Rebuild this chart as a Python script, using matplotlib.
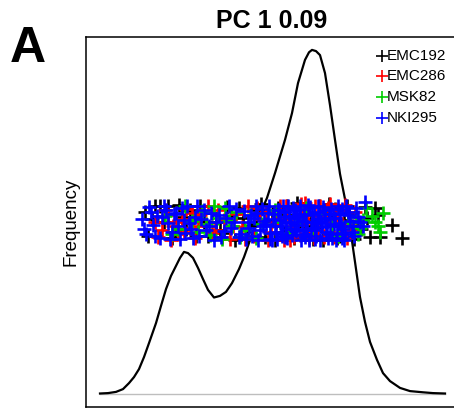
import matplotlib
matplotlib.use("Agg")
import matplotlib.pyplot as plt

plt.rcParams['font.family'] = ['Liberation Sans', 'DejaVu Sans']

# density curve of PC1 (all samples)
dens_x = [-1.70, -1.62, -1.54, -1.47, -1.41, -1.36, -1.31, -1.26, -1.21, -1.14,
          -1.09, -1.04, -0.99, -0.94, -0.90, -0.86, -0.82, -0.77, -0.72, -0.67,
          -0.62, -0.56, -0.50, -0.44, -0.38, -0.31, -0.26, -0.21, -0.15, -0.09,
          -0.03, 0.05, 0.15, 0.22, 0.28, 0.35, 0.39, 0.42, 0.46, 0.50, 0.55, 0.60,
          0.65, 0.70, 0.75, 0.80, 0.85, 0.90, 0.95, 1.00, 1.07, 1.13,
          1.20, 1.30, 1.40, 1.53, 1.63, 1.75]
dens_y = [0.000, 0.001, 0.004, 0.011, 0.026, 0.041, 0.061, 0.091, 0.126, 0.176,
          0.219, 0.261, 0.294, 0.319, 0.339, 0.354, 0.351, 0.339, 0.314, 0.286,
          0.259, 0.240, 0.244, 0.254, 0.276, 0.311, 0.341, 0.376, 0.416, 0.454,
          0.489, 0.551, 0.634, 0.701, 0.776, 0.834, 0.853, 0.859, 0.856, 0.846, 0.801, 0.721,
          0.634, 0.549, 0.486, 0.416, 0.329, 0.241, 0.179, 0.129, 0.084, 0.051,
          0.031, 0.014, 0.006, 0.003, 0.001, 0.000]

# per dataset PC1 scores with vertical jitter
emc192_x = [-1.25, -1.18, -1.10, -1.02, -0.95, -0.88, -0.80, -0.74, -0.66, -0.58,
            -0.50, -0.43, -0.35, -0.27, -0.20, -0.12, -0.05, 0.02, 0.08, 0.14,
            0.19, 0.24, 0.29, 0.33, 0.37, 0.41, 0.45, 0.49, 0.53, 0.57,
            0.61, 0.65, 0.70, 0.74, 0.79, 0.84, 0.87, 0.91, 0.95, 1.00,
            1.05, 1.10, 1.22, 1.32,
            -1.22, -1.15, -1.06, -0.98, -0.91, -0.84, -0.77, -0.70, -0.62, -0.54,
            -0.46, -0.39, -0.31, -0.23, -0.16, -0.09, 0.05, 0.11, 0.17, 0.22,
            0.27, 0.35, 0.43, 0.51, 0.59, 0.67, 0.77, 0.82, 0.97, 1.08]
emc192_y = [0.455, 0.437, 0.470, 0.468, 0.405, 0.442, 0.460, 0.395, 0.428, 0.452,
            0.410, 0.467, 0.385, 0.440, 0.420, 0.458, 0.392, 0.431, 0.465, 0.403,
            0.447, 0.388, 0.425, 0.462, 0.398, 0.436, 0.414, 0.470, 0.384, 0.445,
            0.420, 0.461, 0.395, 0.433, 0.452, 0.386, 0.431, 0.412, 0.466, 0.391,
            0.464, 0.391, 0.421, 0.388,
            0.395, 0.470, 0.430, 0.388, 0.472, 0.412, 0.440, 0.470, 0.395, 0.428,
            0.402, 0.445, 0.465, 0.392, 0.425, 0.474, 0.385, 0.440, 0.470, 0.410,
            0.476, 0.420, 0.386, 0.430, 0.475, 0.388, 0.470, 0.420, 0.440, 0.446]

emc286_x = [-1.15, -1.08, -1.02, -0.97, -0.92, -0.88, -0.84, -0.80, -0.75, -0.70,
            -0.64, -0.58, -0.52, -0.46, -0.40, -0.34, -0.28, -0.22, -0.16, -0.10,
            -0.04, 0.01, 0.06, 0.10, 0.14, 0.18, 0.22, 0.26, 0.30, 0.33,
            0.36, 0.39, 0.42, 0.45, 0.48, 0.51, 0.54, 0.58, 0.62, 0.66,
            0.70, 0.75, 0.80, 0.85,
            -1.12, -1.05, -0.99, -0.94, -0.86, -0.78, -0.72, -0.62, -0.55, -0.48,
            -0.37, -0.25, -0.13, -0.02, 0.08, 0.16, 0.24, 0.31, 0.38, 0.44,
            0.50, 0.56, 0.60, 0.64, 0.68, 0.73, 0.77, 0.83, 0.35, 0.20]
emc286_y = [0.430, 0.410, 0.447, 0.419, 0.398, 0.436, 0.462, 0.415, 0.389, 0.447,
            0.424, 0.401, 0.458, 0.433, 0.386, 0.449, 0.416, 0.470, 0.395, 0.437,
            0.455, 0.404, 0.428, 0.468, 0.383, 0.441, 0.419, 0.461, 0.397, 0.434,
            0.452, 0.388, 0.426, 0.470, 0.409, 0.444, 0.392, 0.465, 0.418, 0.438,
            0.400, 0.471, 0.427, 0.455,
            0.392, 0.460, 0.385, 0.430, 0.404, 0.451, 0.420, 0.470, 0.410, 0.392,
            0.418, 0.386, 0.465, 0.385, 0.440, 0.470, 0.392, 0.475, 0.455, 0.390,
            0.470, 0.430, 0.475, 0.392, 0.460, 0.420, 0.390, 0.408, 0.476, 0.384]

msk82_x = [-1.05, -0.92, -0.78, -0.68, -0.60, -0.52, -0.45, -0.38, -0.30, -0.20,
           -0.08, 0.05, 0.18, 0.30, 0.42, 0.55, 0.68, 0.78, 0.86, 0.90,
           0.93, 0.96, 1.02, 1.08, 1.10, 1.13,
           -0.98, -0.85, -0.72, -0.64, -0.56, -0.48, -0.41, -0.34, -0.25, -0.14,
           0.10, 0.36, 0.62, 0.88, 1.05]
msk82_y = [0.445, 0.412, 0.432, 0.456, 0.397, 0.440, 0.463, 0.418, 0.391, 0.447,
           0.425, 0.460, 0.402, 0.436, 0.415, 0.449, 0.394, 0.428, 0.441, 0.413,
           0.435, 0.464, 0.443, 0.418, 0.404, 0.452,
           0.400, 0.470, 0.405, 0.425, 0.470, 0.386, 0.432, 0.455, 0.410, 0.390,
           0.430, 0.465, 0.420, 0.400, 0.430]

nki295_x = [-1.28, -1.24, -1.21, -1.17, -1.13, -1.10, -1.06, -1.02, -0.98, -0.94,
            -0.90, -0.86, -0.83, -0.79, -0.75, -0.71, -0.66, -0.61, -0.56, -0.51,
            -0.46, -0.41, -0.36, -0.31, -0.26, -0.21, -0.16, -0.12, -0.08, -0.04,
            0.00, 0.04, 0.07, 0.10, 0.13, 0.16, 0.19, 0.22, 0.25, 0.28,
            0.31, 0.34, 0.37, 0.40, 0.43, 0.46, 0.49, 0.52, 0.55, 0.58,
            0.61, 0.64, 0.67, 0.70, 0.73, 0.76, 0.80, 0.84, 0.88, 0.93,
            -1.26, -1.19, -1.15, -1.08, -1.04, -1.00, -0.96, -0.92, -0.88, -0.85,
            -0.81, -0.77, -0.73, -0.69, -0.64, -0.59, -0.54, -0.49, -0.44, -0.39,
            -0.34, -0.29, -0.24, -0.19, -0.14, -0.10, -0.06, -0.02, 0.02, 0.05,
            0.08, 0.11, 0.14, 0.17, 0.20, 0.23, 0.26, 0.29, 0.32, 0.35,
            0.38, 0.41, 0.44, 0.47, 0.50, 0.53, 0.56, 0.59, 0.62, 0.65,
            0.68, 0.71, 0.74, 0.78, 0.82, 0.86, 0.90, 0.95, 0.30, 0.45,
            -0.22, -0.18, -0.13, -0.07, -0.01, 0.03, 0.06, 0.09, 0.12, 0.15,
            0.18, 0.21, 0.24, 0.27, 0.30, 0.33, 0.36, 0.39, 0.42, 0.45,
            0.48, 0.51, 0.54, 0.57, 0.60, 0.63, 0.66, 0.69, 0.72, 0.75,
            0.79, 0.83, 0.00, 0.12, 0.24, 0.36, 0.48, 0.60, 0.72, 0.15]
nki295_y = [0.437, 0.398, 0.466, 0.421, 0.445, 0.389, 0.470, 0.427, 0.404, 0.452,
            0.386, 0.433, 0.468, 0.411, 0.442, 0.395, 0.460, 0.420, 0.384, 0.447,
            0.407, 0.469, 0.430, 0.392, 0.456, 0.415, 0.440, 0.383, 0.462, 0.424,
            0.402, 0.449, 0.387, 0.434, 0.470, 0.412, 0.443, 0.396, 0.458, 0.421,
            0.384, 0.447, 0.408, 0.466, 0.429, 0.393, 0.454, 0.416, 0.438, 0.389,
            0.462, 0.425, 0.401, 0.448, 0.412, 0.469, 0.431, 0.395, 0.442, 0.419,
            0.412, 0.453, 0.394, 0.441, 0.460, 0.386, 0.448, 0.418, 0.463, 0.401,
            0.426, 0.388, 0.470, 0.436, 0.409, 0.451, 0.428, 0.392, 0.440, 0.415,
            0.461, 0.400, 0.386, 0.447, 0.469, 0.410, 0.432, 0.452, 0.385, 0.418,
            0.458, 0.400, 0.441, 0.388, 0.426, 0.463, 0.406, 0.448, 0.432, 0.392,
            0.471, 0.414, 0.452, 0.437, 0.385, 0.466, 0.404, 0.449, 0.390, 0.440,
            0.470, 0.418, 0.385, 0.455, 0.405, 0.464, 0.428, 0.478, 0.470, 0.386,
            0.428, 0.395, 0.452, 0.418, 0.470, 0.437, 0.404, 0.460, 0.420, 0.392,
            0.470, 0.430, 0.412, 0.445, 0.462, 0.398, 0.428, 0.385, 0.450, 0.410,
            0.470, 0.432, 0.460, 0.418, 0.400, 0.448, 0.385, 0.426, 0.462, 0.398,
            0.446, 0.418, 0.386, 0.395, 0.440, 0.412, 0.426, 0.438, 0.390, 0.455]

series = [
    ("EMC192", emc192_x, emc192_y, "black"),
    ("EMC286", emc286_x, emc286_y, "#FF0000"),
    ("MSK82", msk82_x, msk82_y, "#00CD00"),
    ("NKI295", nki295_x, nki295_y, "#0000FF"),
]

fig = plt.figure(figsize=(4.54, 4.09), dpi=100)
ax = fig.add_axes([86 / 454, 2 / 409, 373 / 454, 370.5 / 409])

ax.plot([dens_x[0], dens_x[-1]], [0, 0], color="#BEBEBE", lw=1.0, zorder=1)
ax.plot(dens_x, dens_y, color="black", lw=1.6, zorder=2)

for name, xs, ys, col in series:
    ax.plot(xs, ys, linestyle="none", marker="+", ms=9.5, mew=1.9,
            color=col, zorder=3)

# legend drawn by hand, R style
for i, (name, xs, ys, col) in enumerate(series):
    yy = 0.9487 - i * 0.0565
    ax.plot([0.7936], [yy], transform=ax.transAxes, marker="+", ms=8.5,
            mew=1.2, color=col, clip_on=False)
    ax.text(0.807, yy, name, transform=ax.transAxes, fontsize=11,
            va="center", ha="left")

ax.set_xlim(-1.84, 1.89)
ax.set_ylim(-0.03375, 0.8925)
ax.set_xticks([])
ax.set_yticks([])
for s in ["left", "top", "bottom", "right"]:
    ax.spines[s].set_linewidth(1.1)

fig.text(272 / 454, 1 - 27.5 / 409, "PC 1 0.09", ha="center", va="baseline",
         fontsize=18, fontweight="bold")
fig.text(10 / 454, 1 - 62 / 409, "A", ha="left", va="baseline",
         fontsize=36, fontweight="bold")
fig.text(71 / 454, 1 - 222 / 409, "Frequency", ha="center", va="center",
         rotation=90, fontsize=13.5)

fig.savefig("out.png", dpi=100)
